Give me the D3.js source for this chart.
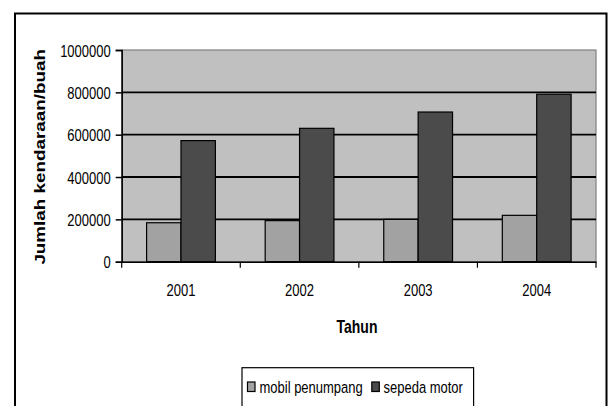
<!DOCTYPE html>
<html>
<head>
<meta charset="utf-8">
<script src="https://cdn.jsdelivr.net/npm/d3@7"></script>
<style>
  html, body { margin: 0; padding: 0; background: #fff; }
  svg { display: block; }
  text { font-family: "Liberation Sans", Arial, sans-serif; fill: #000; }
</style>
</head>
<body>
<svg id="chart" width="609" height="406"></svg>
<script>
// Vehicle counts per year
const years = ["2001", "2002", "2003", "2004"];
const seriesNames = ["mobil penumpang", "sepeda motor"];
const mobilPenumpang = [184000, 194000, 200000, 219000];
const sepedaMotor = [572000, 630000, 707000, 791000];
const yTicks = [0, 200000, 400000, 600000, 800000, 1000000];
const seriesColors = ["#a2a2a2", "#4b4b4b"];

const svg = d3.select("#chart");
const W = 609, H = 406;
const TS = 1.3; // vertical text stretch

// outer frame (bottom edge runs off the page)
svg.append("path")
  .attr("d", `M15,${H + 5} V13.5 H606.5 V${H + 5}`)
  .attr("fill", "none").attr("stroke", "#000").attr("stroke-width", 2);

const plot = { left: 121.7, right: 596, top: 50, bottom: 261.7 };

const x0 = d3.scaleBand().domain(years).range([plot.left, plot.right]).paddingInner(0).paddingOuter(0);
const groupPad = 0.21; // gap around each pair of bars
const x1 = d3.scaleBand().domain(seriesNames)
  .range([x0.bandwidth() * groupPad, x0.bandwidth() * (1 - groupPad)]);
const y = d3.scaleLinear().domain([0, 1000000]).range([plot.bottom, plot.top]);

// plot area
svg.append("rect")
  .attr("x", plot.left).attr("y", plot.top)
  .attr("width", plot.right - plot.left).attr("height", plot.bottom - plot.top)
  .attr("fill", "#c0c0c0").attr("stroke", "#808080").attr("stroke-width", 1.2);

// horizontal gridlines
svg.append("g")
  .selectAll("line")
  .data(yTicks.filter(v => v > 0 && v < 1000000))
  .join("line")
  .attr("x1", plot.left).attr("x2", plot.right)
  .attr("y1", d => y(d)).attr("y2", d => y(d))
  .attr("stroke", "#000").attr("stroke-width", 1.8);

// bars
const rows = years.map((yr, i) => ({ year: yr, values: [mobilPenumpang[i], sepedaMotor[i]] }));
svg.append("g")
  .selectAll("g")
  .data(rows)
  .join("g")
  .attr("transform", d => `translate(${x0(d.year)},0)`)
  .selectAll("rect")
  .data(d => d.values.map((v, k) => ({ name: seriesNames[k], value: v, k })))
  .join("rect")
  .attr("x", d => x1(d.name))
  .attr("width", x1.bandwidth())
  .attr("y", d => y(d.value))
  .attr("height", d => y(0) - y(d.value))
  .attr("fill", d => seriesColors[d.k])
  .attr("stroke", "#000").attr("stroke-width", 1.2);

// y axis
const yAxis = svg.append("g")
  .attr("transform", `translate(${plot.left},0)`)
  .call(d3.axisLeft(y).tickValues(yTicks).tickFormat(d3.format("d")).tickSize(6).tickPadding(5));
yAxis.select(".domain").attr("stroke", "#000").attr("stroke-width", 1.5);
yAxis.selectAll(".tick line").attr("stroke", "#000").attr("stroke-width", 1.5);
yAxis.selectAll(".tick text")
  .attr("font-size", 13).attr("dy", "0.36em")
  .attr("font-family", "'Liberation Sans', Arial, sans-serif")
  .attr("fill", "#000")
  .attr("transform", `scale(1,${TS})`);

// x axis with ticks at category boundaries
const xAxis = svg.append("g")
  .attr("transform", `translate(0,${plot.bottom})`)
  .call(d3.axisBottom(x0).tickSize(0).tickPadding(0));
xAxis.select(".domain").attr("stroke", "#000").attr("stroke-width", 1.5);
xAxis.selectAll(".tick text")
  .attr("font-size", 13).attr("y", 26.6).attr("dy", 0)
  .attr("font-family", "'Liberation Sans', Arial, sans-serif")
  .attr("fill", "#000")
  .attr("transform", `scale(1,${TS})`);
xAxis.append("g")
  .selectAll("line")
  .data(years.map(d => x0(d)).concat([plot.right]))
  .join("line")
  .attr("x1", d => d).attr("x2", d => d)
  .attr("y1", 0).attr("y2", 6)
  .attr("stroke", "#000").attr("stroke-width", 1.2);

// axis titles
svg.append("text")
  .attr("transform", `translate(44.5,${(plot.top + plot.bottom) / 2 + 1}) scale(1,${TS}) rotate(-90)`)
  .attr("text-anchor", "middle")
  .attr("font-size", 14.5).attr("font-weight", "bold")
  .text("Jumlah kendaraan/buah");

svg.append("text")
  .attr("transform", `translate(357,333) scale(1,${TS})`)
  .attr("text-anchor", "middle")
  .attr("font-size", 14).attr("font-weight", "bold")
  .text("Tahun");

// legend
const legend = svg.append("g");
legend.append("rect")
  .attr("x", 242).attr("y", 367.7).attr("width", 231.6).attr("height", 50)
  .attr("fill", "#fff").attr("stroke", "#000").attr("stroke-width", 1.2);
const legendItems = [
  { name: seriesNames[0], color: seriesColors[0], mx: 247.5, tx: 259.5 },
  { name: seriesNames[1], color: seriesColors[1], mx: 371.8, tx: 383.5 }
];
const li = legend.selectAll("g.item").data(legendItems).join("g").attr("class", "item");
li.append("rect")
  .attr("x", d => d.mx).attr("y", 382).attr("width", 7.5).attr("height", 9.5)
  .attr("fill", d => d.color).attr("stroke", "#000").attr("stroke-width", 1.2);
li.append("text")
  .attr("transform", d => `translate(${d.tx},393) scale(1,${TS})`)
  .attr("font-size", 13)
  .text(d => d.name);
</script>
</body>
</html>
